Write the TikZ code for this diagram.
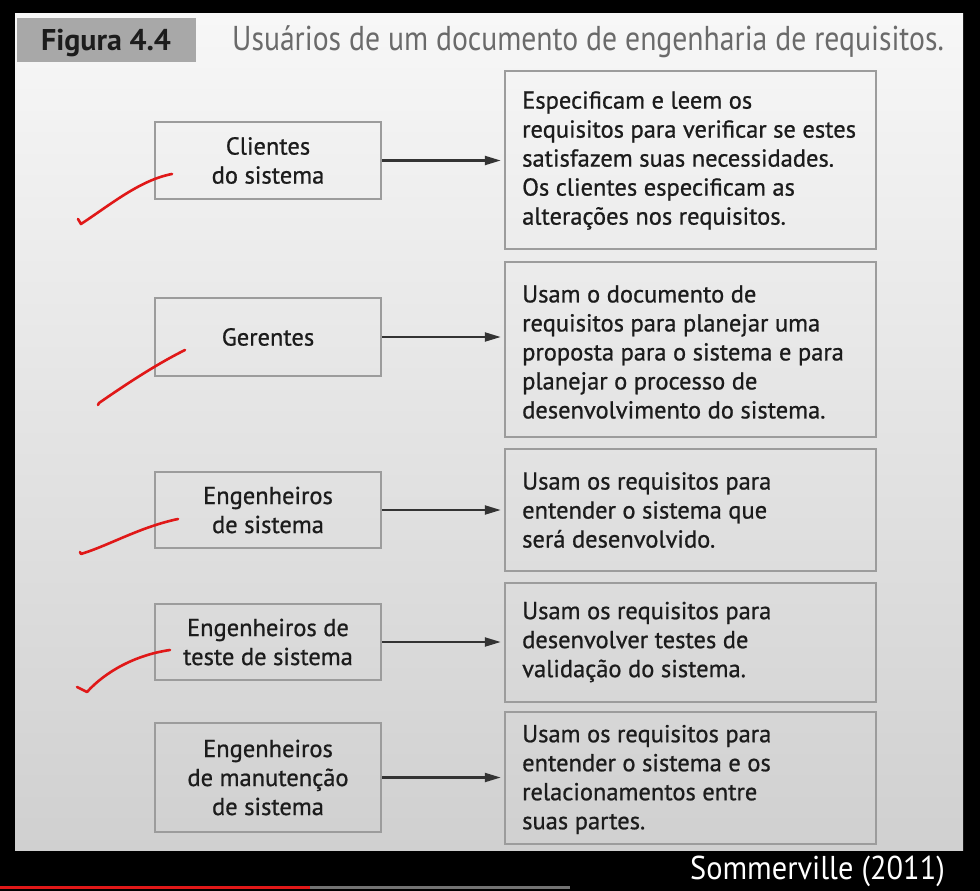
\documentclass[tikz,border=0pt]{standalone}
\usepackage{fontspec}
\setmainfont{PT Sans}
\newfontfamily\semibold{PT Sans}[FakeBold=0.8]
\newfontfamily\condtitle{PT Sans}[FakeStretch=0.86]
\newfontfamily\srcfont{PT Sans}[FakeStretch=0.92]
\newfontfamily\figbold{PT Sans Bold}
\usetikzlibrary{arrows.meta}
\definecolor{boxline}{HTML}{9C9C9C}
\definecolor{txt}{HTML}{1C1C1C}
\definecolor{titlegray}{HTML}{6A6A6A}
\definecolor{figbox}{HTML}{A8A8A8}
\definecolor{pentop}{HTML}{F7F7F7}
\definecolor{penmid}{HTML}{EFEFEF}
\definecolor{penbot}{HTML}{D0D0D0}
\definecolor{inkred}{HTML}{E01818}
\tikzset{
  userbox/.style={draw=boxline, line width=2.5pt, minimum width=226pt, align=center,
    text=txt, font=\semibold\fontsize{24.5}{29}\selectfont, inner sep=0pt},
  usebox/.style={draw=boxline, line width=2.5pt, minimum width=371pt, inner sep=0pt},
  usetext/.style={anchor=west, align=left, text=txt, font=\semibold\fontsize{24.5}{29}\selectfont, inner sep=0pt},
  conn/.style={draw=black!80, line width=2.2pt, -{Triangle[length=16pt,width=9pt]}, shorten >=3pt},
  tick/.style={draw=inkred, line width=2.6pt, line cap=round, line join=round}
}
\begin{document}
\begin{tikzpicture}[x=1pt,y=-1pt]
\useasboundingbox (0,0) rectangle (980,891);
\fill[black] (0,0) rectangle (980,891);
\shade[top color=pentop, middle color=penmid, bottom color=penbot] (15,14) rectangle (963,850);
% header
\fill[figbox] (17,18) rectangle (196,62);
\node[font=\figbold\fontsize{30}{34}\selectfont, text=txt, inner sep=0pt] (fig) at (106,43) {Figura 4.4};
\node[font=\condtitle\fontsize{34.5}{38}\selectfont, text=titlegray, inner sep=0pt, anchor=west] (title) at (232,42) {Usuários de um documento de engenharia de requisitos.};
% footer
\node[font=\srcfont\fontsize{33}{36}\selectfont, text=white, inner sep=0pt, anchor=east] (src) at (945,871) {Sommerville (2011)};
\fill[inkred] (0,886) rectangle (310,889);
\fill[black!55] (310,886) rectangle (570,889);
% left boxes
\node[userbox, minimum height=77pt] (u1) at (268,160.5) {Clientes\\do sistema};
\node[userbox, minimum height=78pt] (u2) at (268,337) {Gerentes};
\node[userbox, minimum height=76pt] (u3) at (268,510) {Engenheiros\\de sistema};
\node[userbox, minimum height=76pt] (u4) at (268,642) {Engenheiros de\\teste de sistema};
\node[userbox, minimum height=109pt] (u5) at (268,777.5) {Engenheiros\\de manutenção\\de sistema};
% right boxes
\node[usebox, minimum height=178pt] (r1) at (690.5,160) {};
\node[usebox, minimum height=175pt] (r2) at (690.5,349.5) {};
\node[usebox, minimum height=122pt] (r3) at (690.5,510) {};
\node[usebox, minimum height=119pt] (r4) at (690.5,642.5) {};
\node[usebox, minimum height=132pt] (r5) at (690.5,778) {};
\node[usetext] (t1) at (522,160.5) {Especificam e leem os\\requisitos para verificar se estes\\satisfazem suas necessidades.\\Os clientes especificam as\\alterações nos requisitos.};
\node[usetext] (t2) at (522,352) {Usam o documento de\\requisitos para planejar uma\\proposta para o sistema e para\\planejar o processo de\\desenvolvimento do sistema.};
\node[usetext] (t3) at (522,510) {Usam os requisitos para\\entender o sistema que\\será desenvolvido.};
\node[usetext] (t4) at (522,642) {Usam os requisitos para\\desenvolver testes de\\validação do sistema.};
\node[usetext] (t5) at (522,779.5) {Usam os requisitos para\\entender o sistema e os\\relacionamentos entre\\suas partes.};
% connectors
\draw[conn] (u1.east) -- (u1.east -| r1.west);
\draw[conn] (u2.east) -- (u2.east -| r2.west);
\draw[conn] (u3.east) -- (u3.east -| r3.west);
\draw[conn] (u4.east) -- (u4.east -| r4.west);
\draw[conn] (u5.east) -- (u5.east -| r5.west);
% red hand-drawn ticks
\draw[tick] (78,219) -- (81,224) .. controls (110,205) and (140,180) .. (172,174);
\draw[tick] (98,405) -- (99,403) .. controls (125,385) and (155,365) .. (185,350);
\draw[tick] (80,552) -- (81,554) .. controls (110,545) and (140,527) .. (178,519);
\draw[tick] (77,687) -- (87,692) .. controls (105,672) and (135,655) .. (170,650);
\end{tikzpicture}
\end{document}
